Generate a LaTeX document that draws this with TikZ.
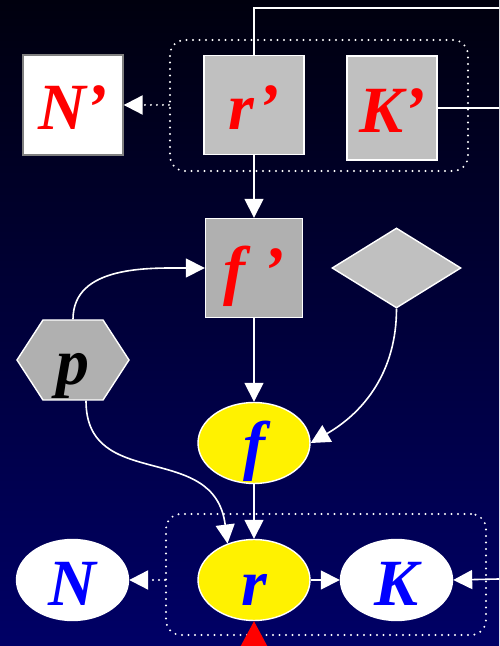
\documentclass[tikz,border=0pt]{standalone}
\usepackage{fontspec}
\setmainfont{Liberation Serif}
\usetikzlibrary{arrows.meta,shapes.geometric,shapes.symbols}
\definecolor{bgtop}{RGB}{0,0,14}
\definecolor{bgbot}{RGB}{0,0,102}
\definecolor{boxgray}{RGB}{192,192,192}
\definecolor{boxdark}{RGB}{176,176,176}

\begin{document}
\begin{tikzpicture}[x=1pt,y=1pt,
    letter/.style={font=\fontsize{66}{66}\selectfont\bfseries\itshape,text height=50pt,text depth=0pt,inner sep=0pt},
    sqbox/.style={letter,rectangle,draw=white,line width=1.4pt,text=red},
    oval/.style={letter,ellipse,draw=white,line width=1.4pt,text=blue,minimum width=112pt,minimum height=81pt},
    group/.style={draw=white,rounded corners=15pt,line width=2.2pt,line cap=round,dash pattern=on 0pt off 6.5pt},
    wire/.style={white,line width=1.6pt},
    arr/.style={wire,-{Triangle[length=19pt,width=19pt]}},
    dotarr/.style={arr,line width=2.2pt,line cap=round,dash pattern=on 0pt off 6pt}]
      % Background
      \useasboundingbox (0,0) rectangle (499,646);
      \clip (0,0) rectangle (499,646);
      \shade[top color=bgtop,bottom color=bgbot] (0,0) rectangle (499,646);
      % Groups
      \node[group,minimum width=298pt,minimum height=131pt] (topgrp) at (319,540.5) {};
      \node[group,minimum width=320pt,minimum height=121pt] (botgrp) at (326,71.5) {};
      % Upper row
      \node[sqbox,fill=white,draw=gray,minimum width=100pt,minimum height=100pt] (nprime) at (73,541) {N’};
      \node[sqbox,fill=boxgray,minimum width=100pt,minimum height=99pt] (rprime) at (254,541) {r’};
      \node[sqbox,fill=boxgray,minimum width=90pt,minimum height=104pt] (kprime) at (392,538) {K’};
      % Middle
      \node[sqbox,fill=boxdark,minimum width=97pt,minimum height=99pt] (fprime) at (254,378) {f ’};
      \node[diamond,draw=white,line width=1.4pt,fill=boxgray,inner sep=0pt,minimum width=129pt,minimum height=80pt] (cond) at (396.5,378) {};
      \node[letter,signal,signal to=west and east,signal pointer angle=114,draw=white,line width=1.4pt,fill=boxdark,minimum width=112pt,minimum height=80pt] (p) at (73,286) {p};
      \node[oval,fill=yellow] (f) at (254,203) {f};
      % Lower row
      \node[oval,fill=yellow] (r) at (254,66) {r};
      \node[oval,fill=white] (n) at (72.5,66) {N};
      \node[oval,fill=white] (k) at (396.5,66) {K};
      % Loose ends
      \coordinate (topout) at (499,638);
      \coordinate (kout) at (499,538);
      \coordinate (kin) at (499,67);
      \coordinate (rin) at (254,-40);
      % Connectors
      \draw[wire] (rprime.north) |- (topout);
      \draw[wire] (kprime.east) -- (kout);
      \draw[dotarr] (topgrp.west |- nprime.east) -- (nprime.east);
      \draw[arr] (rprime.south) -- (fprime.north);
      \draw[arr] (p.north) .. controls (73,381) and (150,378) .. (fprime.west);
      \draw[arr] (fprime.south) -- (f.north);
      \draw[arr] (cond.south) to[out=-90,in=30] (f.east);
      \draw[arr] ([xshift=13pt]p.south) .. controls +(0,-92) and +(-13,104) .. (r.126);
      \draw[arr] (f.south) -- (r.north);
      \draw[arr] (r.east) -- (k.west);
      \draw[arr] (kin) -- (k.east);
      \draw[dotarr] (botgrp.west |- n.east) -- (n.east);
      \draw[red,line width=1.6pt,-{Triangle[length=34pt,width=36pt]}] (rin) -- (r.south);
    \end{tikzpicture}
\end{document}
